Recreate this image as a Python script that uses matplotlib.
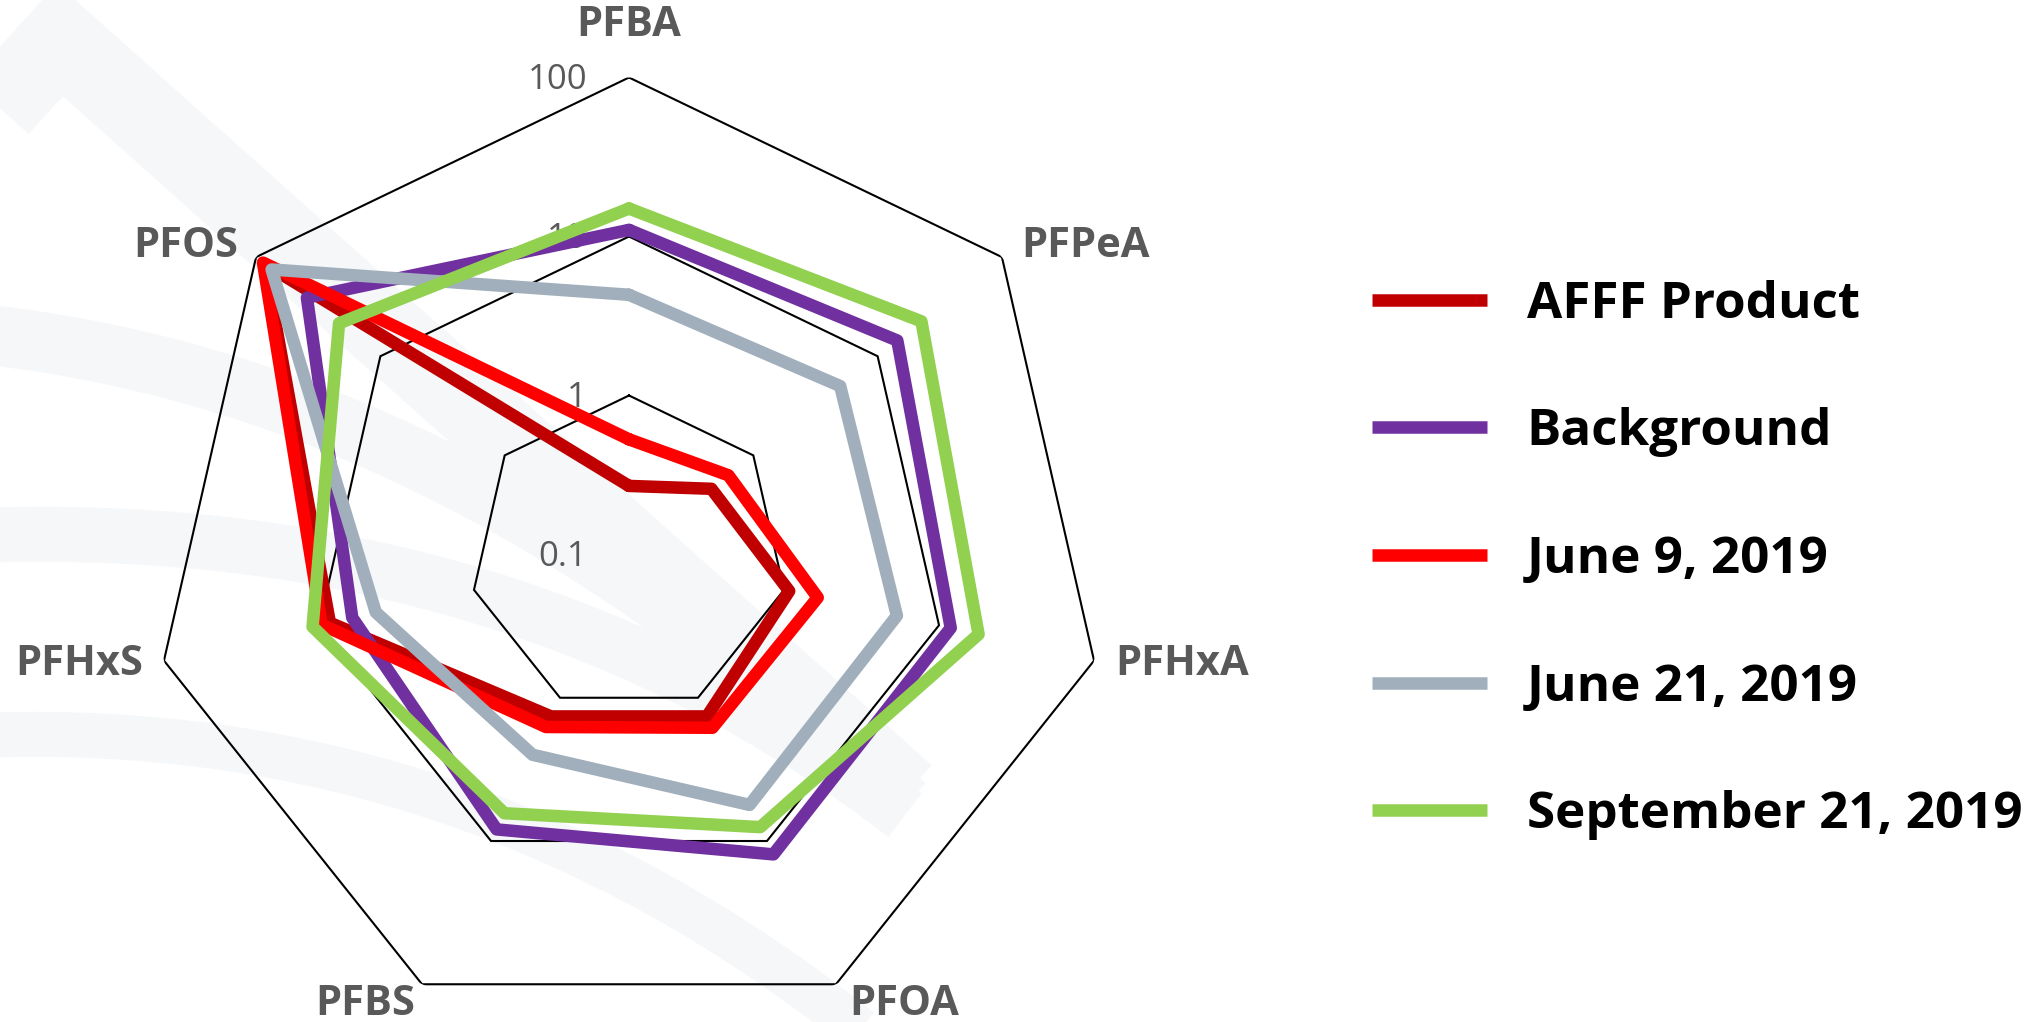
import numpy as np
import matplotlib
matplotlib.use("Agg")
import matplotlib.pyplot as plt
from matplotlib.font_manager import FontProperties
from matplotlib.ticker import NullLocator
from matplotlib.path import Path
from matplotlib.patches import PathPatch

# Concentrations per compound for each sampling event (log-scaled radar)
categories = ["PFBA", "PFPeA", "PFHxA", "PFOA", "PFBS", "PFHxS", "PFOS"]
series_names = ["AFFF Product", "Background", "June 9, 2019",
                "June 21, 2019", "September 21, 2019"]
afff_product = [0.27, 0.46, 1.08, 1.35, 1.35, 8.5, 85]
background = [11, 14.4, 11.9, 12.4, 8.3, 6.1, 39]
june_9 = [0.53, 0.63, 1.65, 1.62, 1.6, 9.6, 88]
june_21 = [4.3, 5.0, 5.35, 5.6, 2.5, 4.3, 75]
september_21 = [15, 22.5, 18, 8.0, 6.4, 11, 21.5]
ring_values = [0.1, 1, 10, 100]
ring_labels = ["0.1", "1", "10", "100"]

series_values = [afff_product, background, june_9, june_21, september_21]
series_colors = ["#C00000", "#7030A0", "#FF0000", "#A0AFBB", "#92D050"]

W, H = 2033, 1022
fig = plt.figure(figsize=(W / 100, H / 100), dpi=100)
fig.patch.set_facecolor("white")

# faint decorative watermark behind the chart (pixel coordinates, y down)
bg = fig.add_axes([0, 0, 1, 1], zorder=-10)
bg.set_xlim(0, W)
bg.set_ylim(H, 0)
bg.axis("off")
wm_color = "#F5F7F9"
px = 0.72  # points per pixel at 100 dpi
bg.add_patch(PathPatch(Path([(-40, 150), (60, 40), (905, 795)],
                            [Path.MOVETO, Path.LINETO, Path.LINETO]),
                       fill=False, edgecolor=wm_color, lw=80 * px,
                       joinstyle="miter", capstyle="butt"))
for start, ctrl, end, width in [((-10, 335), (470, 390), (905, 805), 60),
                                ((-10, 535), (520, 520), (905, 815), 55),
                                ((-10, 735), (470, 720), (860, 1030), 45)]:
    bg.add_patch(PathPatch(Path([start, ctrl, end],
                                [Path.MOVETO, Path.CURVE3, Path.CURVE3]),
                           fill=False, edgecolor=wm_color, lw=width * px,
                           capstyle="butt"))

# polar area: centre and outer radius in pixels
cx, cy, R = 629, H - 554.5, 477
ax = fig.add_axes([(cx - R) / W, (cy - R) / H, 2 * R / W, 2 * R / H],
                  projection="polar")
ax.set_theta_zero_location("N")
ax.set_theta_direction(-1)
ax.set_rscale("log")
ax.set_rlim(ring_values[0], ring_values[-1])
ax.grid(False)
ax.set_xticks([])
ax.set_yticks([])
ax.yaxis.set_minor_locator(NullLocator())
ax.spines["polar"].set_visible(False)
ax.patch.set_alpha(0)

n = len(categories)
theta = np.arange(n) * 2 * np.pi / n
theta_closed = np.append(theta, theta[0])

# heptagonal grid rings
for v in ring_values[1:]:
    ax.plot(theta_closed, [v] * (n + 1), color="black", lw=1.5, zorder=2,
            solid_joinstyle="miter")

# ring value labels along the first spoke
for v, lbl in zip(ring_values, ring_labels):
    ax.annotate(lbl, xy=(0, v), xytext=(-42, -2), textcoords="offset pixels",
                ha="right", va="center", fontsize=25, color="#595959",
                family="Open Sans", zorder=1.5, annotation_clip=False)

# data series
lines = []
for vals, name, col in zip(series_values, series_names, series_colors):
    ln, = ax.plot(theta_closed, list(vals) + [vals[0]], color=col, lw=9,
                  label=name, zorder=3, solid_joinstyle="round",
                  solid_capstyle="round")
    lines.append(ln)

# compound labels outside the outer ring
label_pos = {
    "PFBA": ((0, 52), "center", "center"),
    "PFPeA": ((19, 11), "left", "center"),
    "PFHxA": ((21, -4), "left", "center"),
    "PFOA": ((13, 0), "left", "top"),
    "PFBS": ((-7, 0), "right", "top"),
    "PFHxS": ((-21, -4), "right", "center"),
    "PFOS": ((-18, 11), "right", "center"),
}
for t, cat in zip(theta, categories):
    off, ha, va = label_pos[cat]
    ax.annotate(cat, xy=(t, ring_values[-1]), xytext=off,
                textcoords="offset pixels", ha=ha, va=va, fontsize=30,
                fontweight="bold", color="#595959", family="Open Sans",
                annotation_clip=False)

# legend on the right
leg_font = FontProperties(family="Open Sans", weight="bold", size=36.8)
for ln in lines:
    ln.set_solid_capstyle("butt")
fig.legend(handles=lines, labels=series_names, loc="center left",
           bbox_to_anchor=(1372 / W, (H - 560) / H), frameon=False,
           prop=leg_font, handlelength=2.25, handletextpad=0.78,
           labelspacing=1.52, borderpad=0, borderaxespad=0)
for ln in lines:
    ln.set_solid_capstyle("round")

fig.savefig("out.png", dpi=100)
